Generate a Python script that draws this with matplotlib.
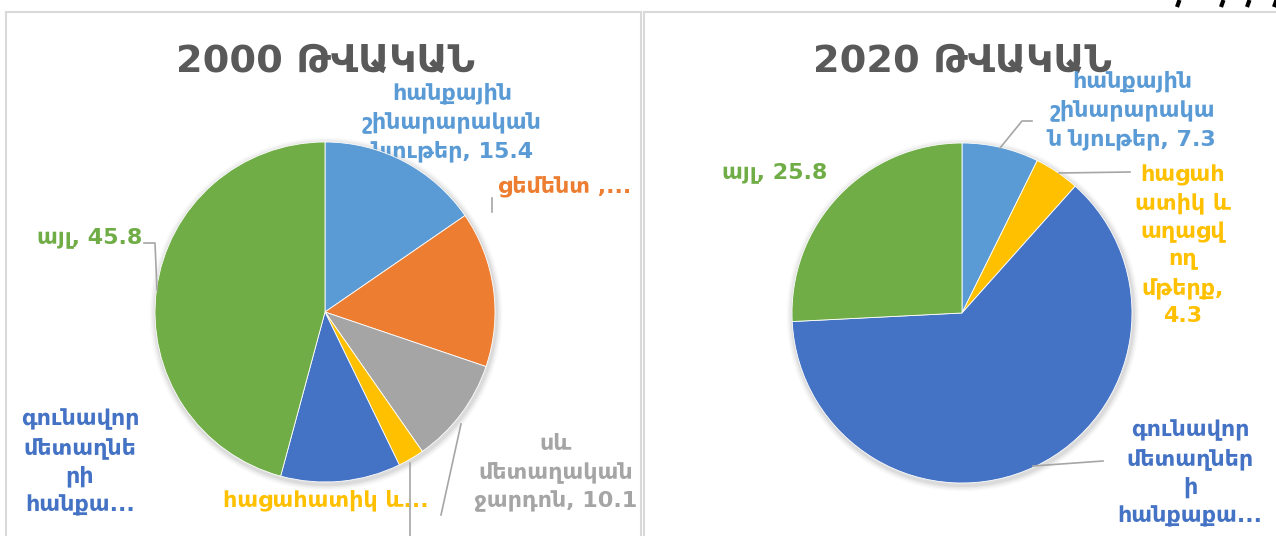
import matplotlib.pyplot as plt
from matplotlib.patches import Circle, Rectangle

# --- data ---
categories_2000 = ['հանքային շինարարական նյութեր', 'ցեմենտ', 'սև մետաղական ջարդոն',
                   'հացահատիկ և աղացվող մթերք', 'գունավոր մետաղների հանքաքար', 'այլ']
values_2000 = [15.4, 14.8, 10.1, 2.5, 11.4, 45.8]
labels_2000 = ['հանքային\nշինարարական\nնյութեր, 15.4', 'ցեմենտ ,...',
               'սև\nմետաղական\nջարդոն, 10.1', 'հացահատիկ և...',
               'գունավոր\nմետաղնե\nրի\nհանքա...', 'այլ, 45.8']

categories_2020 = ['հանքային շինարարական նյութեր', 'հացահատիկ և աղացվող մթերք',
                   'գունավոր մետաղների հանքաքար', 'այլ']
values_2020 = [7.3, 4.3, 62.6, 25.8]
labels_2020 = ['հանքային\nշինարարակա\nն նյութեր, 7.3',
               'հացահ\nատիկ և\nաղացվ\nող\nմթերք,\n4.3',
               'գունավոր\nմետաղներ\nի\nհանքաքա...', 'այլ, 25.8']

titles = ['2000 ԹՎԱԿԱՆ', '2020 ԹՎԱԿԱՆ']

# Office colours
colors_2000 = ['#5B9BD5', '#ED7D31', '#A5A5A5', '#FFC000', '#4472C4', '#70AD47']
colors_2020 = ['#5B9BD5', '#FFC000', '#4472C4', '#70AD47']

W, H = 1276, 536
def Y(y):
    # pixel row (from top) -> data y
    return H - y

plt.rcParams['font.family'] = ['DejaVu Sans']

fig = plt.figure(figsize=(W / 100, H / 100), dpi=100)
ax = fig.add_axes([0, 0, 1, 1])

# panel borders
ax.add_patch(Rectangle((6, Y(600)), 635, 588, fill=False, edgecolor='#D9D9D9', lw=1.5, zorder=0))
ax.add_patch(Rectangle((644, Y(600)), 700, 588, fill=False, edgecolor='#D9D9D9', lw=1.5, zorder=0))

# little cut-off strokes at the top right
for x0 in [1178, 1222, 1248, 1275]:
    ax.plot([x0 - 1, x0 + 1.5], [Y(7), Y(0)], color='black', lw=3, solid_capstyle='butt')

R = 170
centers = [(325, Y(312)), (962, Y(313))]

def soft_shadow(c):
    for i, a in enumerate([0.05, 0.04, 0.03, 0.02]):
        ax.add_patch(Circle((c[0] + 1, c[1] - 2), R + 2 + i * 1.5, color='black',
                            alpha=a, lw=0, zorder=1))

# --- 2000 pie ---
soft_shadow(centers[0])
ax.pie(values_2000, colors=colors_2000, startangle=90, counterclock=False,
       center=centers[0], radius=R,
       wedgeprops=dict(edgecolor='white', linewidth=0.6, zorder=3))

# --- 2020 pie ---
soft_shadow(centers[1])
ax.pie(values_2020, colors=colors_2020, startangle=90, counterclock=False,
       center=centers[1], radius=R,
       wedgeprops=dict(edgecolor='white', linewidth=0.6, zorder=3))

# titles
title_kw = dict(fontsize=27.5, fontweight='bold', color='#595959', ha='center', va='center',
                zorder=4)
ax.text(325, Y(62), titles[0], **title_kw)
ax.text(962, Y(62), titles[1], **title_kw)

lab_kw = dict(fontsize=16, fontweight='bold', ha='center', va='center', linespacing=1.42)

# data labels, 2000
pos_2000 = [(452, 122), (565, 186), (556, 473), (326, 500), (80, 462), (90, 238)]
for lab, col, (x, y) in zip(labels_2000, colors_2000, pos_2000):
    ax.text(x, Y(y), lab, color=col, zorder=2, **lab_kw)

# data labels, 2020
pos_2020 = [(1132, 110), (1183, 245), (1190, 473), (775, 173)]
for lab, col, (x, y) in zip(labels_2020, colors_2020, pos_2020):
    ax.text(x, Y(y), lab, color=col, zorder=4, **lab_kw)

# leader lines
leaders = [
    [(144, 243), (155, 243), (157, 290)],
    [(492, 198), (492, 212)],
    [(410, 463), (410, 536)],
    [(461, 424), (441, 515)],
    [(1032, 121), (1022, 121), (1000, 148)],
    [(1130, 172), (1059, 173)],
    [(1103, 461), (1033, 466)],
]
for pts in leaders:
    xs = [p[0] for p in pts]
    ys = [Y(p[1]) for p in pts]
    ax.plot(xs, ys, color='#A6A6A6', lw=1.2, zorder=5)

ax.set_xlim(0, W)
ax.set_ylim(0, H)
ax.set_aspect('auto')
ax.axis('off')

plt.savefig('out.png', dpi=100)
